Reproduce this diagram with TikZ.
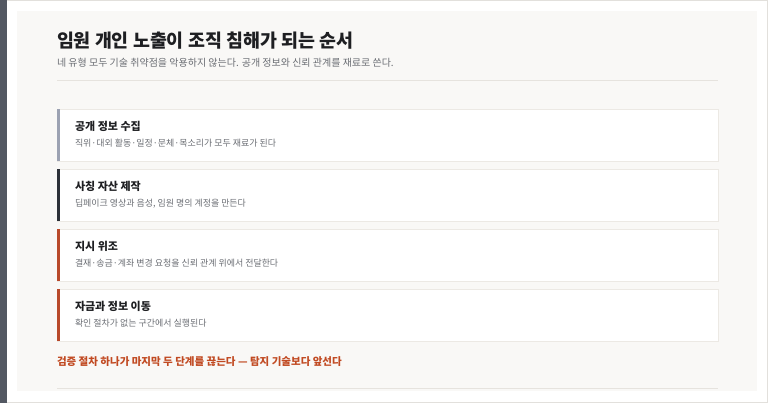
\documentclass[tikz,border=0pt]{standalone}
\usepackage{fontspec}
\setmainfont{Noto Sans CJK KR}
\newfontfamily\kr{Noto Sans CJK KR}
\definecolor{framegray}{HTML}{E2E0DC}
\definecolor{sidebar}{HTML}{535862}
\definecolor{panelbg}{HTML}{F9F8F6}
\definecolor{rulegray}{HTML}{E6E3DE}
\definecolor{cardborder}{HTML}{ECE9E4}
\definecolor{titleink}{HTML}{1E1F22}
\definecolor{subink}{HTML}{6B6E74}
\definecolor{barone}{HTML}{9CA2B2}
\definecolor{bartwo}{HTML}{2C3038}
\definecolor{rust}{HTML}{B8492B}
\definecolor{rusttext}{HTML}{C14A22}
\tikzset{
  txt/.style={anchor=west,inner sep=0pt,outer sep=0pt},
  maintitle/.style={txt,font=\kr\bfseries\fontsize{18.4}{22}\selectfont,text=titleink},
  subtitle/.style={txt,font=\kr\fontsize{10}{12}\selectfont,text=subink},
  cardtitle/.style={txt,font=\kr\bfseries\fontsize{11}{13}\selectfont,text=titleink},
  cardsub/.style={txt,font=\kr\fontsize{8.95}{11}\selectfont,text=subink},
  card/.style={draw=cardborder,line width=0.8pt,fill=white},
  note/.style={txt,font=\kr\bfseries\fontsize{10.5}{13}\selectfont,text=rusttext},
}
\begin{document}
\begin{tikzpicture}[x=1pt,y=-1pt]
\useasboundingbox (0,0) rectangle (768,403);
% outer frame
\fill[white] (0,0) rectangle (768,403);
\draw[framegray,line width=1pt] (0,0.5) -- (767.5,0.5) -- (767.5,402.5) -- (0,402.5);
\fill[sidebar] (0,0) rectangle (7,403);
% panel
\fill[panelbg] (17,11) rectangle (757,391);
% heading
\node[maintitle] (title) at (57,41) {임원 개인 노출이 조직 침해가 되는 순서};
\node[subtitle] (sub) at (57,62.5) {네 유형 모두 기술 취약점을 악용하지 않는다. 공개 정보와 신뢰 관계를 재료로 쓴다.};
\draw[rulegray,line width=1pt] (57,80.5) -- (718,80.5);
% cards
\foreach \y/\c in {109/barone,169/bartwo,229/rust,289/rust}{
  \draw[card] (57,\y) rectangle (718,\y+52);
  \fill[\c] (56.6,\y-0.4) rectangle (59.6,\y+52.4);
}
\node[cardtitle] (c1t) at (75,126) {공개 정보 수집};
\node[cardsub] (c1s) at (75,143.5) {직위·대외 활동·일정·문체·목소리가 모두 재료가 된다};
\node[cardtitle] (c2t) at (75,186) {사칭 자산 제작};
\node[cardsub] (c2s) at (75,203.5) {딥페이크 영상과 음성, 임원 명의 계정을 만든다};
\node[cardtitle] (c3t) at (75,246) {지시 위조};
\node[cardsub] (c3s) at (75,263.5) {결재·송금·계좌 변경 요청을 신뢰 관계 위에서 전달한다};
\node[cardtitle] (c4t) at (75,306) {자금과 정보 이동};
\node[cardsub] (c4s) at (75,323.5) {확인 절차가 없는 구간에서 실행된다};
% note
\node[note] (note) at (57,361.5) {검증 절차 하나가 마지막 두 단계를 끊는다 — 탐지 기술보다 앞선다};
\draw[rulegray,line width=1pt] (57,388.5) -- (718,388.5);
\end{tikzpicture}
\end{document}
